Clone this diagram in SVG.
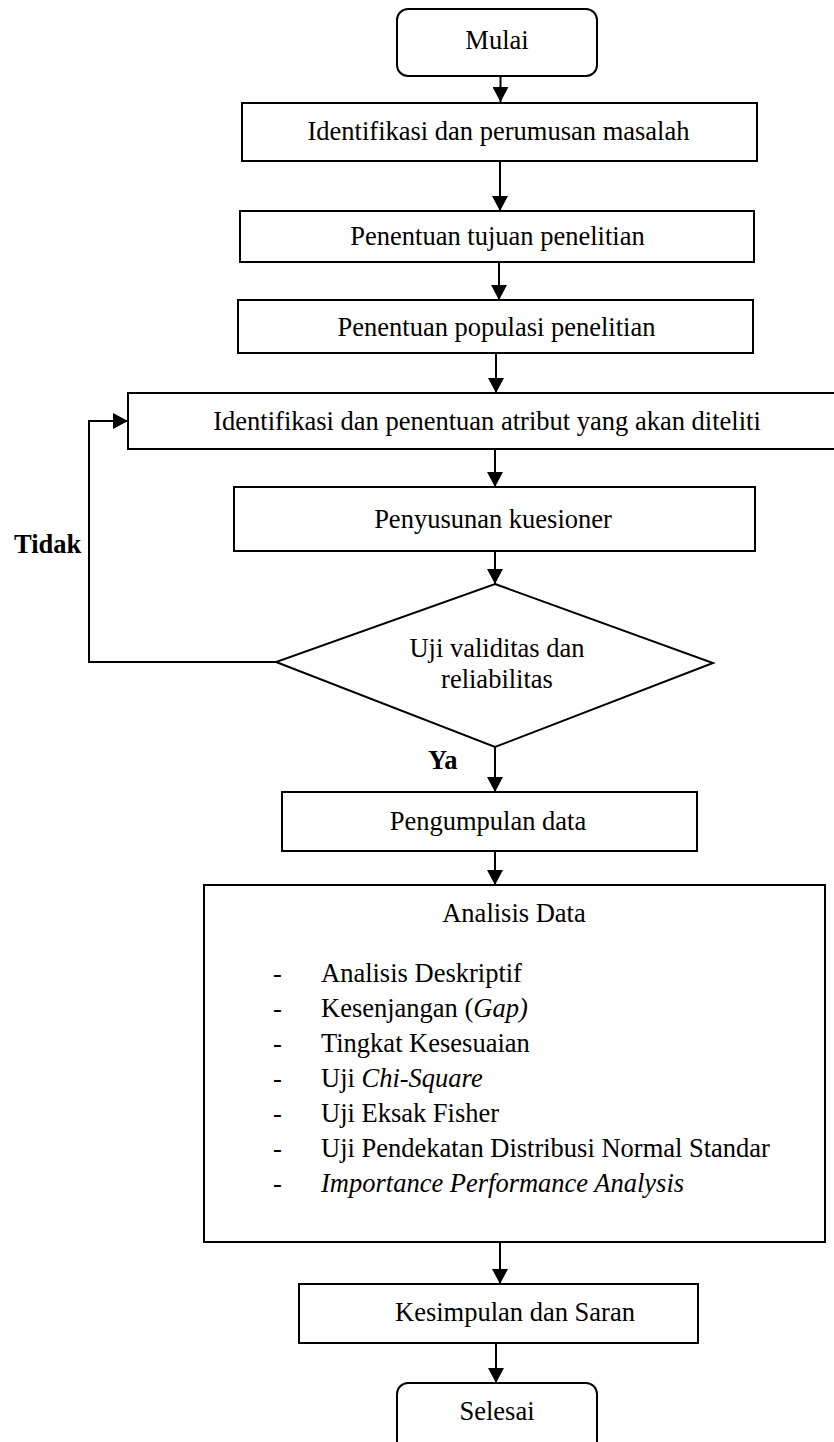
<svg xmlns="http://www.w3.org/2000/svg" width="834" height="1442" viewBox="0 0 834 1442">
<style>
.box{fill:#fff;stroke:#000;stroke-width:2}
.t{font-family:"Liberation Serif","Times New Roman",serif;font-size:26.5px;fill:#000}
.c{text-anchor:middle}
.b{font-weight:bold}
.con{fill:none;stroke:#000;stroke-width:2}
</style>
<defs>
<marker id="arr" markerUnits="userSpaceOnUse" markerWidth="16" markerHeight="16" refX="15" refY="8" orient="auto">
<path d="M0,0 L15,8 L0,16 z" fill="#000"/>
</marker>
</defs>
<rect width="834" height="1442" fill="#fff"/>
<g id="connectors">
<line class="con" x1="500.5" y1="76" x2="500.5" y2="102" marker-end="url(#arr)"/>
<line class="con" x1="500" y1="161" x2="500" y2="211" marker-end="url(#arr)"/>
<line class="con" x1="499" y1="262" x2="499" y2="300" marker-end="url(#arr)"/>
<line class="con" x1="496" y1="353" x2="496" y2="393" marker-end="url(#arr)"/>
<line class="con" x1="495" y1="449" x2="495" y2="487" marker-end="url(#arr)"/>
<line class="con" x1="495" y1="551" x2="495" y2="584" marker-end="url(#arr)"/>
<line class="con" x1="495" y1="747" x2="495" y2="792" marker-end="url(#arr)"/>
<line class="con" x1="495" y1="851" x2="495" y2="885" marker-end="url(#arr)"/>
<line class="con" x1="500" y1="1242" x2="500" y2="1284" marker-end="url(#arr)"/>
<line class="con" x1="496" y1="1343" x2="496" y2="1383" marker-end="url(#arr)"/>
<polyline class="con" points="276,662 89,662 89,421 128,421" marker-end="url(#arr)"/>
<text class="t b" x="14" y="553">Tidak</text>
<text class="t b" x="428" y="769">Ya</text>
</g>
<g id="mulai">
<rect class="box" x="397" y="9" width="200" height="67" rx="11"/>
<text class="t c" x="497" y="49">Mulai</text>
</g>
<g id="identifikasi-masalah">
<rect class="box" x="242" y="103" width="515" height="58"/>
<text class="t c" x="498.5" y="140">Identifikasi dan perumusan masalah</text>
</g>
<g id="tujuan">
<rect class="box" x="240" y="211" width="514" height="51"/>
<text class="t c" x="497.5" y="245">Penentuan tujuan penelitian</text>
</g>
<g id="populasi">
<rect class="box" x="238" y="300" width="515" height="53"/>
<text class="t c" x="496.5" y="336">Penentuan populasi penelitian</text>
</g>
<g id="atribut">
<rect class="box" x="128" y="393" width="710" height="56"/>
<text class="t c" x="487" y="430">Identifikasi dan penentuan atribut yang akan diteliti</text>
</g>
<g id="kuesioner">
<rect class="box" x="234" y="487" width="521" height="64"/>
<text class="t c" x="493" y="528">Penyusunan kuesioner</text>
</g>
<g id="uji">
<polygon class="box" points="495,584 713,663 495,747 276,662"/>
<text class="t c" x="497" y="657">Uji validitas dan</text>
<text class="t c" x="497" y="688">reliabilitas</text>
</g>
<g id="pengumpulan">
<rect class="box" x="282" y="792" width="415" height="59"/>
<text class="t c" x="488" y="830">Pengumpulan data</text>
</g>
<g id="analisis">
<rect class="box" x="204" y="885" width="621" height="357"/>
<text class="t c" x="514" y="922">Analisis Data</text>
<g class="t">
<text x="273" y="982">-</text><text x="321" y="982">Analisis Deskriptif</text>
<text x="273" y="1017">-</text><text x="321" y="1017">Kesenjangan (<tspan font-style="italic">Gap)</tspan></text>
<text x="273" y="1052">-</text><text x="321" y="1052">Tingkat Kesesuaian</text>
<text x="273" y="1087">-</text><text x="321" y="1087">Uji <tspan font-style="italic">Chi-Square</tspan></text>
<text x="273" y="1122">-</text><text x="321" y="1122">Uji Eksak Fisher</text>
<text x="273" y="1157">-</text><text x="321" y="1157">Uji Pendekatan Distribusi Normal Standar</text>
<text x="273" y="1192">-</text><text x="321" y="1192" font-style="italic">Importance Performance Analysis</text>
</g>
</g>
<g id="kesimpulan">
<rect class="box" x="299" y="1284" width="399" height="59"/>
<text class="t c" x="515" y="1321">Kesimpulan dan Saran</text>
</g>
<g id="selesai">
<rect class="box" x="397" y="1383" width="200" height="80" rx="11"/>
<text class="t c" x="497" y="1420">Selesai</text>
</g>
</svg>
